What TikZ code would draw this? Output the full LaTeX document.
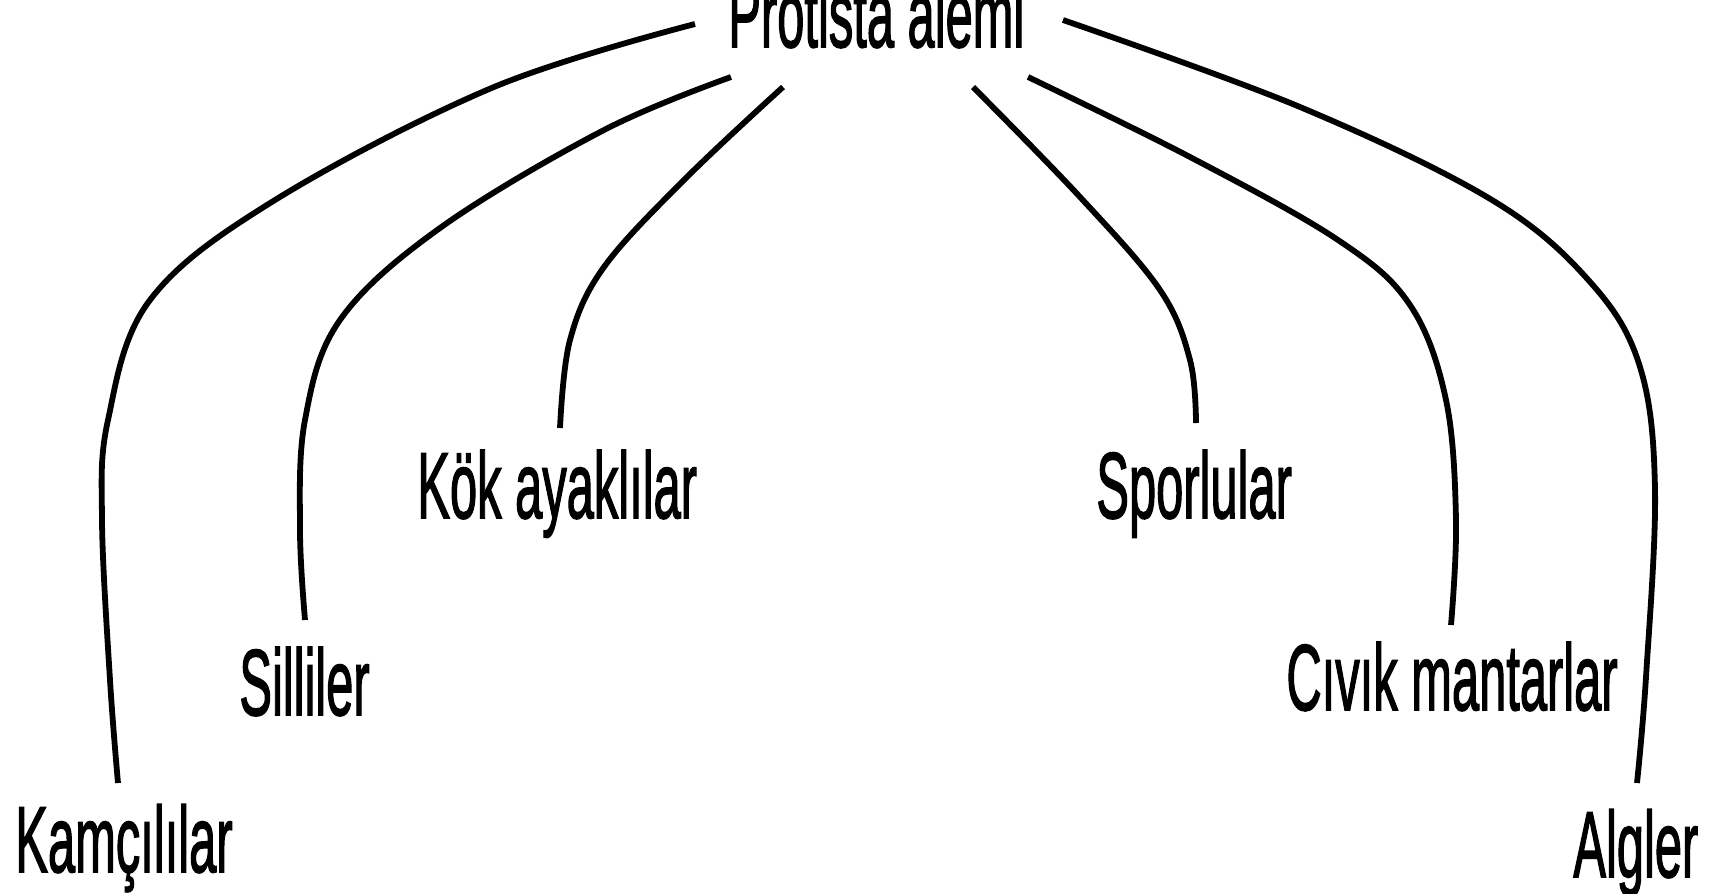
\documentclass[tikz,border=0pt]{standalone}
\usepackage{fontspec}
\usepackage{graphicx}
\setmainfont{Liberation Sans}
\newfontfamily\labfont[FakeBold=2]{Liberation Sans}
\newcommand{\sq}[1]{\scalebox{0.522}[1]{#1}}
\tikzset{
  lab/.style={inner sep=0pt, anchor=base west, font=\labfont\fontsize{46.8}{50}\selectfont},
  branch/.style={line width=2.9pt, line cap=butt, line join=round},
}
\begin{document}
\begin{tikzpicture}[x=0.5pt,y=-0.5pt]
\useasboundingbox[fill=white] (0,0) rectangle (1719,894);

\node[lab] (root) at (728,47) {\sq{Protista alemi}};
\node[lab] (kam) at (15,872) {\sq{Kamçılılar}};
\node[lab] (sil) at (239,715) {\sq{Silliler}};
\node[lab] (kok) at (417,518) {\sq{Kök ayaklılar}};
\node[lab] (spo) at (1096,518) {\sq{Sporlular}};
\node[lab] (civ) at (1286,710) {\sq{Cıvık mantarlar}};
\node[lab] (alg) at (1573,877) {\sq{Algler}};

\coordinate (s1) at (695,24);  \coordinate (e1) at (118,783);
\coordinate (s2) at (731,77);  \coordinate (e2) at (305,620);
\coordinate (s3) at (783,87);  \coordinate (e3) at (560,428);
\coordinate (s4) at (973,87);  \coordinate (e4) at (1196,423);
\coordinate (s5) at (1028,77); \coordinate (e5) at (1451,625);
\coordinate (s6) at (1063,20); \coordinate (e6) at (1637,783);

\draw[branch] plot[smooth, tension=0.6] coordinates {(s1) (494,87) (275,200) (150,300) (108,420) (102,520) (110,680) (e1)};
\draw[branch] plot[smooth, tension=0.6] coordinates {(s2) (604,130) (440,228) (340,320) (305,420) (300,530) (e2)};
\draw[branch] plot[smooth, tension=0.6] coordinates {(s3) (686,178) (604,267) (570,340) (e3)};
\draw[branch] plot[smooth, tension=0.6] coordinates {(s4) (1080,197) (1160,290) (1190,360) (e4)};
\draw[branch] plot[smooth, tension=0.6] coordinates {(s5) (1190,157) (1338,240) (1410,305) (1446,400) (1456,520) (e5)};
\draw[branch] plot[smooth, tension=0.6] coordinates {(s6) (1300,107) (1492,200) (1591,283) (1640,367) (1655,490) (1646,677) (e6)};
\end{tikzpicture}
\end{document}
